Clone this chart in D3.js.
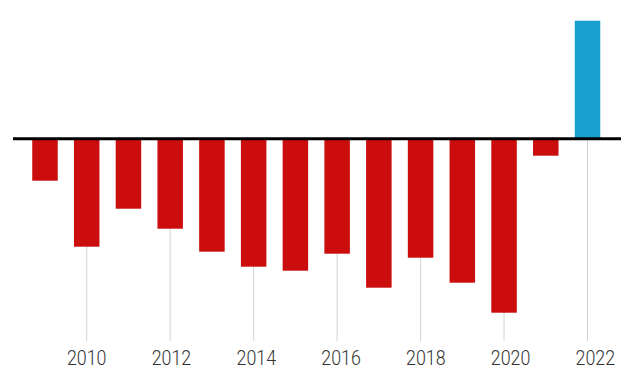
<!DOCTYPE html>
<html>
<head>
<meta charset="utf-8">
<script src="https://cdn.jsdelivr.net/npm/d3@7"></script>
<style>
  body { margin: 0; background: #fff; }
  svg { display: block; }
</style>
</head>
<body>
<div id="chart"></div>
<script>
const years = [2009, 2010, 2011, 2012, 2013, 2014, 2015, 2016, 2017, 2018, 2019, 2020, 2021, 2022];
const values = [-4.2, -10.8, -7.0, -9.0, -11.3, -12.8, -13.2, -11.5, -14.9, -11.9, -14.4, -17.4, -1.7, 11.8];
const tickYears = [2010, 2012, 2014, 2016, 2018, 2020, 2022];

const width = 630;
const height = 386;

const svg = d3.select('#chart').append('svg')
  .attr('width', width)
  .attr('height', height);

const x = d3.scaleBand()
  .domain(years)
  .range([16, 616.5])
  .padding(0.389);

const y = d3.scaleLinear()
  .domain([-20, 12])
  .range([338.7, 18.7]);

const bw = x.bandwidth();

// vertical gridlines at even years
svg.append('g')
  .selectAll('line')
  .data(tickYears)
  .enter().append('line')
  .attr('x1', d => x(d) + bw / 2)
  .attr('x2', d => x(d) + bw / 2)
  .attr('y1', y(0))
  .attr('y2', 341)
  .attr('stroke', '#d2d2d2')
  .attr('stroke-width', 1);

// bars
svg.append('g')
  .selectAll('rect')
  .data(years)
  .enter().append('rect')
  .attr('x', d => x(d))
  .attr('width', bw)
  .attr('y', (d, i) => Math.min(y(values[i]), y(0)))
  .attr('height', (d, i) => Math.abs(y(values[i]) - y(0)))
  .attr('fill', (d, i) => values[i] < 0 ? '#cc0d0d' : '#179fd0');

// zero line
svg.append('line')
  .attr('x1', 13)
  .attr('x2', 621)
  .attr('y1', y(0))
  .attr('y2', y(0))
  .attr('stroke', '#000')
  .attr('stroke-width', 3);

// year labels
svg.append('g')
  .selectAll('text')
  .data(tickYears)
  .enter().append('text')
  .attr('x', d => x(d) + bw / 2 + (d - 2010) * 0.65)
  .attr('y', 365.3)
  .attr('text-anchor', 'middle')
  .attr('font-family', 'Roboto, sans-serif')
  .attr('font-weight', 300)
  .attr('font-size', 20.5)
  .attr('textLength', 39.5)
  .attr('lengthAdjust', 'spacingAndGlyphs')
  .attr('fill', '#333')
  .text(d => d);
</script>
</body>
</html>
